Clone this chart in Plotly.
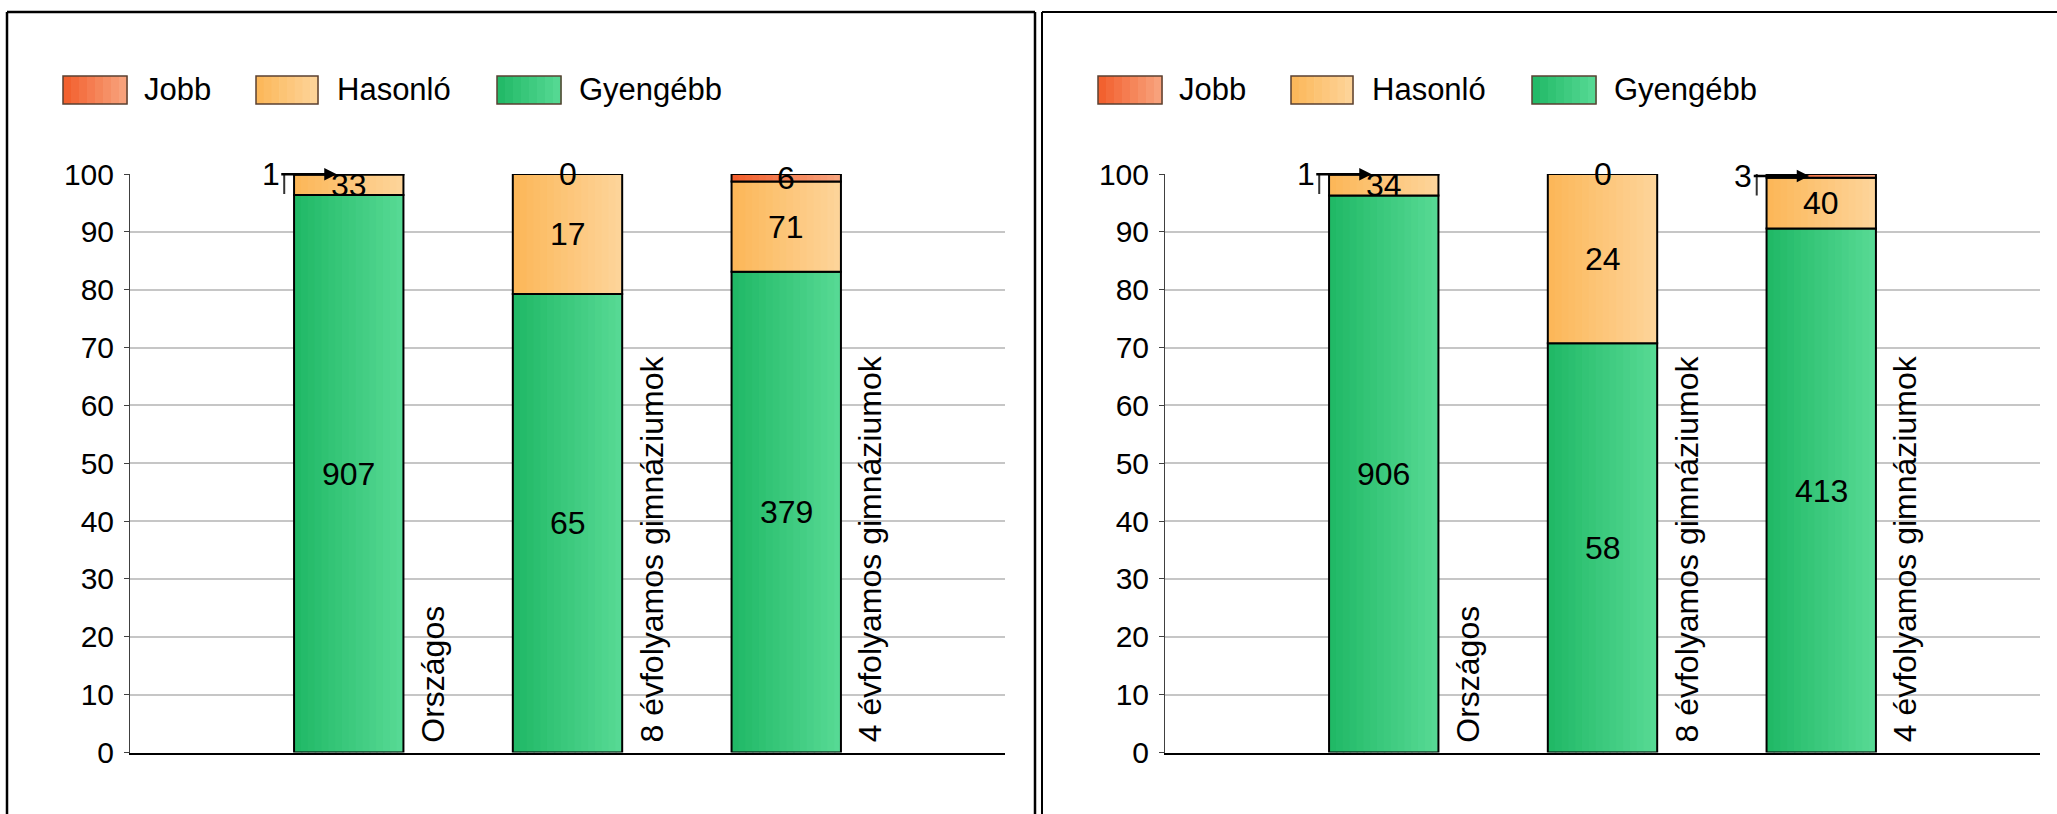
import plotly.graph_objects as go

# --- data -------------------------------------------------------------
categories = ["Országos", "8 évfolyamos gimnáziumok", "4 évfolyamos gimnáziumok"]
legend_order = ["Jobb", "Hasonló", "Gyengébb"]
stack_order = ["Gyengébb", "Hasonló", "Jobb"]   # bottom -> top

left_gyengebb = [907, 65, 379]
left_hasonlo = [33, 17, 71]
left_jobb = [1, 0, 6]

right_gyengebb = [906, 58, 413]
right_hasonlo = [34, 24, 40]
right_jobb = [1, 0, 3]

y_ticks = [0, 10, 20, 30, 40, 50, 60, 70, 80, 90, 100]

# --- style ------------------------------------------------------------
W, H = 2057, 814
FONT = "Liberation Sans, Arial, sans-serif"
colors = {  # left edge -> right edge of the gradient
    "Jobb": ("#F25C2A", "#F8A680"),
    "Hasonló": ("#FCB657", "#FDD59B"),
    "Gyengébb": ("#1FB865", "#58DA95"),
}
N_STRIPS = 16
BAR_W = 0.5


def px_x(x):
    return x / W


def px_y(y):
    return 1 - y / H


def mix(c1, c2, t):
    a = [int(c1[i:i + 2], 16) for i in (1, 3, 5)]
    b = [int(c2[i:i + 2], 16) for i in (1, 3, 5)]
    return "rgb(%d,%d,%d)" % tuple(round(a[k] + (b[k] - a[k]) * t) for k in range(3))


fig = go.Figure()
annotations = []
shapes = []


def add_panel(counts, xa, ya, dx):
    xs = list(range(len(categories)))
    totals = [sum(counts[s][i] for s in stack_order) for i in xs]
    base = [0.0] * len(xs)
    for s in stack_order:
        pct = [100.0 * counts[s][i] / totals[i] for i in xs]
        c1, c2 = colors[s]
        step = BAR_W / N_STRIPS
        for k in range(N_STRIPS):
            fig.add_trace(go.Bar(
                x=xs, y=pct, base=base, xaxis=xa, yaxis=ya,
                width=step * 1.25 if k < N_STRIPS - 1 else step,
                offset=-BAR_W / 2 + k * step,
                marker=dict(color=mix(c1, c2, (k + 0.5) / N_STRIPS), line=dict(width=0)),
                showlegend=False, hoverinfo="skip"))
        fig.add_trace(go.Bar(
            x=xs, y=pct, base=base, xaxis=xa, yaxis=ya, width=BAR_W,
            marker=dict(color="rgba(0,0,0,0)", line=dict(color="black", width=2)),
            showlegend=False, hoverinfo="skip"))
        # value labels
        for i in xs:
            c = counts[s][i]
            mid = base[i] + pct[i] / 2
            if c == 0 or pct[i] >= 1:
                annotations.append(dict(
                    x=i, y=mid, xref=xa, yref=ya, text=str(c), showarrow=False,
                    font=dict(size=32, color="black", family=FONT)))
            else:
                annotations.append(dict(
                    x=i, y=mid, xref=xa, yref=ya, text=str(c), showarrow=True,
                    ax=-78, ay=0, arrowhead=2, arrowsize=1, arrowwidth=2.5,
                    arrowcolor="black", standoff=12,
                    font=dict(size=32, color="black", family=FONT)))
                shapes.append(dict(
                    type="line", xref=xa, yref=ya,
                    x0=i - BAR_W / 2 - 0.045, x1=i - BAR_W / 2 - 0.045,
                    y0=mid - 3.4, y1=mid + 1.2,
                    line=dict(color="#333333", width=2)))
        base = [base[i] + pct[i] for i in xs]

    # category labels, rotated next to each bar
    for i, cat in enumerate(categories):
        annotations.append(dict(
            x=i, y=0, xref=xa, yref=ya, xshift=84, yshift=8,
            xanchor="center", yanchor="bottom", textangle=-90,
            text=cat, showarrow=False,
            font=dict(size=32, color="black", family=FONT)))

    # hand-drawn legend (large swatches)
    sw = {"Jobb": (63, 127, 142), "Hasonló": (256, 318, 335), "Gyengébb": (497, 561, 577)}
    for name in legend_order:
        x0, x1, tx = sw[name]
        x0 += dx
        x1 += dx
        tx += dx
        c1, c2 = colors[name]
        n = 8
        for k in range(n):
            shapes.append(dict(
                type="rect", xref="paper", yref="paper",
                x0=px_x(x0 + (x1 - x0) * k / n), x1=px_x(x0 + (x1 - x0) * (k + 1) / n + 0.6),
                y0=px_y(104), y1=px_y(76),
                fillcolor=mix(c1, c2, (k + 0.5) / n), line=dict(width=0)))
        shapes.append(dict(
            type="rect", xref="paper", yref="paper",
            x0=px_x(x0), x1=px_x(x1), y0=px_y(104), y1=px_y(76),
            line=dict(color="#5A4032", width=1.5)))
        annotations.append(dict(
            x=px_x(tx), y=px_y(90), xref="paper", yref="paper",
            xanchor="left", yanchor="middle", text=name, showarrow=False,
            font=dict(size=31, color="black", family=FONT)))


add_panel({"Gyengébb": left_gyengebb, "Hasonló": left_hasonlo, "Jobb": left_jobb}, "x", "y", 0)
add_panel({"Gyengébb": right_gyengebb, "Hasonló": right_hasonlo, "Jobb": right_jobb}, "x2", "y2", 1035)

# panel frames
frame = dict(color="black", width=2.5)
shapes += [
    dict(type="line", xref="paper", yref="paper", x0=px_x(7), x1=px_x(7), y0=-0.02, y1=px_y(12), line=frame),
    dict(type="line", xref="paper", yref="paper", x0=px_x(1035), x1=px_x(1035), y0=-0.02, y1=px_y(12), line=frame),
    dict(type="line", xref="paper", yref="paper", x0=px_x(7), x1=px_x(1035), y0=px_y(12), y1=px_y(12), line=frame),
    dict(type="line", xref="paper", yref="paper", x0=px_x(1042), x1=px_x(1042), y0=-0.02, y1=px_y(12),
         line=dict(color="black", width=2)),
    dict(type="line", xref="paper", yref="paper", x0=px_x(1042), x1=1.01, y0=px_y(12), y1=px_y(12),
         line=dict(color="black", width=2)),
]

xaxis_style = dict(range=[-1, 3], showgrid=False, zeroline=False, showticklabels=False,
                   showline=True, linecolor="black", linewidth=2, ticks="", fixedrange=True)
yaxis_style = dict(range=[0, 100], tickvals=y_ticks, showgrid=True, gridcolor="#C6C6C6", gridwidth=2,
                   zeroline=False, showline=True, linecolor="#404040", linewidth=1,
                   ticks="outside", ticklen=5, tickcolor="#404040", ticklabelstandoff=4,
                   automargin=False,
                   tickfont=dict(size=30, color="black", family=FONT), domain=[61.5 / H, 640 / H])

fig.update_layout(
    width=W, height=H,
    margin=dict(l=0, r=0, t=0, b=0, pad=0, autoexpand=False),
    paper_bgcolor="white", plot_bgcolor="white",
    barmode="overlay",
    showlegend=False,
    font=dict(family=FONT, color="black"),
    xaxis=dict(domain=[130 / W, 1005 / W], anchor="y", automargin=False, **xaxis_style),
    yaxis=dict(anchor="x", **yaxis_style),
    xaxis2=dict(domain=[1165 / W, 2040 / W], anchor="y2", automargin=False, **xaxis_style),
    yaxis2=dict(anchor="x2", **yaxis_style),
    annotations=annotations,
    shapes=shapes,
)

fig.write_html("out.html", config={"displayModeBar": False},
               post_script="document.body.style.margin='0';document.body.style.overflow='hidden';")
